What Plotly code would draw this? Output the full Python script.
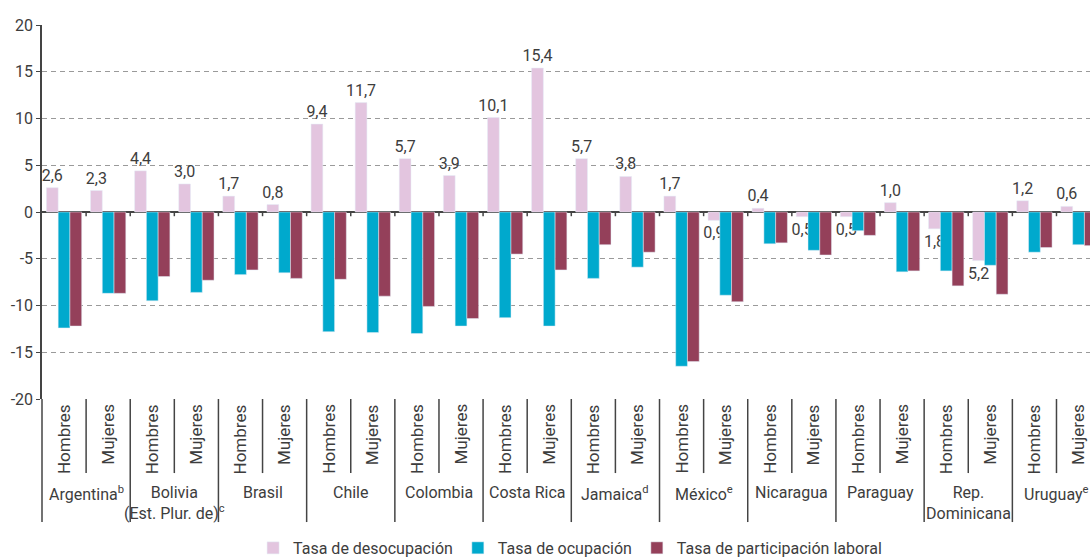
import plotly.graph_objects as go

# ---------------- data ----------------
countries = ["Argentina<sup>b</sup>", "Bolivia<br>(Est. Plur. de)<sup>c</sup>", "Brasil", "Chile",
             "Colombia", "Costa Rica", "Jamaica<sup>d</sup>", "México<sup>e</sup>", "Nicaragua",
             "Paraguay", "Rep.<br>Dominicana", "Uruguay<sup>e</sup>"]
sexes = ["Hombres", "Mujeres"]
series_names = ["Tasa de desocupación", "Tasa de ocupación", "Tasa de participación laboral"]
desocupacion = [2.6, 2.3, 4.4, 3.0, 1.7, 0.8, 9.4, 11.7, 5.7, 3.9, 10.1, 15.4,
                5.7, 3.8, 1.7, -0.9, 0.4, -0.5, -0.5, 1.0, -1.8, -5.2, 1.2, 0.6]
ocupacion = [-12.4, -8.7, -9.5, -8.6, -6.7, -6.5, -12.8, -12.9, -13.0, -12.2, -11.3, -12.2,
             -7.1, -5.9, -16.5, -8.9, -3.4, -4.1, -2.0, -6.4, -6.3, -5.7, -4.3, -3.5]
participacion = [-12.2, -8.7, -6.9, -7.3, -6.2, -7.1, -7.2, -9.0, -10.1, -11.4, -4.5, -6.2,
                 -3.5, -4.3, -16.0, -9.6, -3.3, -4.6, -2.5, -6.3, -7.9, -8.8, -3.8, -3.6]
y_ticks = [-20, -15, -10, -5, 0, 5, 10, 15, 20]

# ---------------- style ----------------
FONT = "Roboto, sans-serif"
TXT = "#3d3d3d"
C_PINK = "#E3C5DF"
C_CYAN = "#00A9CD"
C_RED = "#94405A"
LINE = "#444444"

n = len(countries) * len(sexes)
xpos = list(range(n))
labels = [f"{abs(v):.1f}".replace(".", ",") for v in desocupacion]

fig = go.Figure()
fig.add_trace(go.Bar(x=xpos, y=desocupacion, name=series_names[0], marker_color=C_PINK,
                     text=labels, textposition="outside", constraintext="none", cliponaxis=False,
                     textfont=dict(family=FONT, size=16, color=TXT)))
fig.add_trace(go.Bar(x=xpos, y=ocupacion, name=series_names[1], marker_color=C_CYAN))
fig.add_trace(go.Bar(x=xpos, y=participacion, name=series_names[2], marker_color=C_RED))

shapes = []
annotations = []
for i in range(n):
    # small tick at the zero line between groups
    shapes.append(dict(type="line", xref="x", yref="y", x0=i + 0.5, x1=i + 0.5, y0=0, y1=-0.45,
                       line=dict(color=LINE, width=1.5)))
    annotations.append(dict(x=i, xref="x", y=-0.008, yref="paper", text=sexes[i % 2], textangle=-90,
                            showarrow=False, xanchor="center", yanchor="top",
                            font=dict(family=FONT, size=17, color=TXT)))
for k in range(len(countries)):
    shapes.append(dict(type="line", xref="x", yref="paper", x0=2 * k + 0.5, x1=2 * k + 0.5,
                       y0=0, y1=-0.198, line=dict(color=LINE, width=1.5)))
    if k == 0:
        shapes.append(dict(type="line", xref="paper", yref="paper", x0=0, x1=0,
                           y0=0, y1=-0.329, line=dict(color=LINE, width=1.5)))
    else:
        shapes.append(dict(type="line", xref="x", yref="paper", x0=2 * k - 0.5, x1=2 * k - 0.5,
                           y0=0, y1=-0.329, line=dict(color=LINE, width=1.5)))
    annotations.append(dict(x=2 * k + 0.5, xref="x", y=-0.22, yref="paper", text=countries[k],
                            showarrow=False, xanchor="center", yanchor="top",
                            font=dict(family=FONT, size=16, color=TXT)))

fig.update_layout(
    width=1090, height=558,
    margin=dict(l=42, r=0, t=25, b=159, autoexpand=False),
    paper_bgcolor="white", plot_bgcolor="white",
    barmode="group", bargap=0.2, bargroupgap=0,
    font=dict(family=FONT, size=16, color=TXT),
    showlegend=True,
    legend=dict(orientation="h", xref="container", yref="container",
                x=0.523, xanchor="center", y=0.018, yanchor="middle",
                font=dict(family=FONT, size=16, color=TXT), traceorder="normal",
                itemwidth=30, tracegroupgap=0),
    shapes=shapes,
    annotations=annotations,
    xaxis=dict(range=[-0.5, 23.26], showticklabels=False, showgrid=False, zeroline=False,
               showline=False, ticks="", automargin=False),
    yaxis=dict(range=[-20, 20], tickvals=y_ticks, ticktext=[str(v) for v in y_ticks],
               showgrid=True, gridcolor="#9a9a9a", griddash="5px,4px", gridwidth=1,
               zeroline=True, zerolinecolor=LINE, zerolinewidth=1.5,
               showline=True, linecolor=LINE, linewidth=1.5,
               ticks="outside", ticklen=4, tickcolor=LINE, automargin=False,
               tickfont=dict(family=FONT, size=16, color=TXT)),
)

fig.write_html("out.html", config={"displayModeBar": False},
               post_script="document.body.style.margin='0';document.body.style.overflow='hidden';")
